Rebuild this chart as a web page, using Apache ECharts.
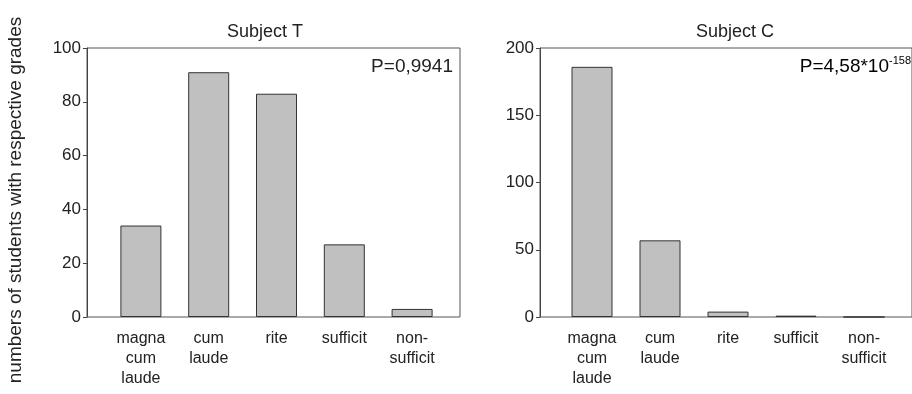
<!DOCTYPE html>
<html><head><meta charset="utf-8">
<script src="https://cdn.jsdelivr.net/npm/echarts@6/dist/echarts.min.js"></script>
<style>html,body{margin:0;padding:0;background:#fff}#c{width:912px;height:394px}</style>
</head><body><div id="c"></div>
<script>
const categories = ['magna\ncum\nlaude', 'cum\nlaude', 'rite', 'sufficit', 'non-\nsufficit'];
const subjectTValues = [34, 91, 83, 27, 3];
const subjectCValues = [186, 57, 4, 1, 0];
const titles = ['Subject T', 'Subject C'];
const pTextT = 'P=0,9941';
const pBaseC = 'P=4,58*10';
const pExpC = '-158';
const yName = 'numbers of students with respective grades';

const FONT = '"Liberation Sans", Arial, sans-serif';
const TXT = '#222';
const LINE = '#444';

const chart = echarts.init(document.getElementById('c'), null, {renderer: 'canvas'});

function frameGrid(left, width) {
  return {left: left, width: width, top: 48, height: 269, show: true, borderColor: '#555', borderWidth: 1, backgroundColor: 'transparent', containLabel: false};
}
function dataGrid(left, width) {
  return {left: left, width: width, top: 48, height: 269, containLabel: false};
}
const hiddenAxis = (idx, type) => ({type: type, gridIndex: idx, show: false, min: 0, max: 1});

const catAxis = (idx) => ({
  type: 'category', gridIndex: idx, data: categories, boundaryGap: true,
  axisLine: {show: false}, axisTick: {show: false},
  axisLabel: {interval: 0, fontFamily: FONT, fontSize: 16, color: TXT, lineHeight: 20, margin: 12}
});
const valAxis = (idx, max, interval, offset) => ({
  type: 'value', gridIndex: idx, min: 0, max: max, interval: interval, offset: offset,
  axisLine: {show: true, lineStyle: {color: LINE, width: 1}},
  axisTick: {show: true, inside: false, length: 4, lineStyle: {color: LINE}},
  splitLine: {show: false},
  axisLabel: {fontFamily: FONT, fontSize: 17, color: TXT, margin: 6}
});

const barStyle = {color: '#c0c0c0', borderColor: '#333', borderWidth: 1};

chart.setOption({
  animation: false,
  backgroundColor: '#fff',
  grid: [
    frameGrid(87, 373),
    dataGrid(107, 339),
    frameGrid(540, 380),
    dataGrid(558, 340)
  ],
  xAxis: [hiddenAxis(0, 'value'), catAxis(1), hiddenAxis(2, 'value'), catAxis(3)],
  yAxis: [hiddenAxis(0, 'value'), valAxis(1, 100, 20, 20), hiddenAxis(2, 'value'), valAxis(3, 200, 50, 18)],
  series: [
    {type: 'bar', xAxisIndex: 1, yAxisIndex: 1, data: subjectTValues, barWidth: 41, itemStyle: barStyle},
    {type: 'bar', xAxisIndex: 3, yAxisIndex: 3, data: subjectCValues, barWidth: 41, itemStyle: barStyle}
  ],
  graphic: [
    {type: 'text', x: 265, y: 32, style: {text: titles[0], font: '18px ' + FONT, fill: TXT, textAlign: 'center', textVerticalAlign: 'middle'}},
    {type: 'text', x: 735, y: 32, style: {text: titles[1], font: '18px ' + FONT, fill: TXT, textAlign: 'center', textVerticalAlign: 'middle'}},
    {type: 'text', x: 453, y: 67, style: {text: pTextT, font: '19px ' + FONT, fill: TXT, textAlign: 'right', textVerticalAlign: 'middle'}},
    {type: 'text', x: 911, y: 67, style: {
      text: '{b|' + pBaseC + '}{s|' + pExpC + '}', textAlign: 'right', textVerticalAlign: 'middle',
      rich: {
        b: {fontFamily: FONT, fontSize: 19, color: TXT},
        s: {fontFamily: FONT, fontSize: 11, color: TXT, padding: [0, 0, 12, 0]}
      }
    }},
    {type: 'text', x: 16, y: 200, rotation: Math.PI / 2, style: {text: yName, font: '19px ' + FONT, fill: TXT, textAlign: 'center', textVerticalAlign: 'middle'}}
  ]
});
</script>
</body></html>
